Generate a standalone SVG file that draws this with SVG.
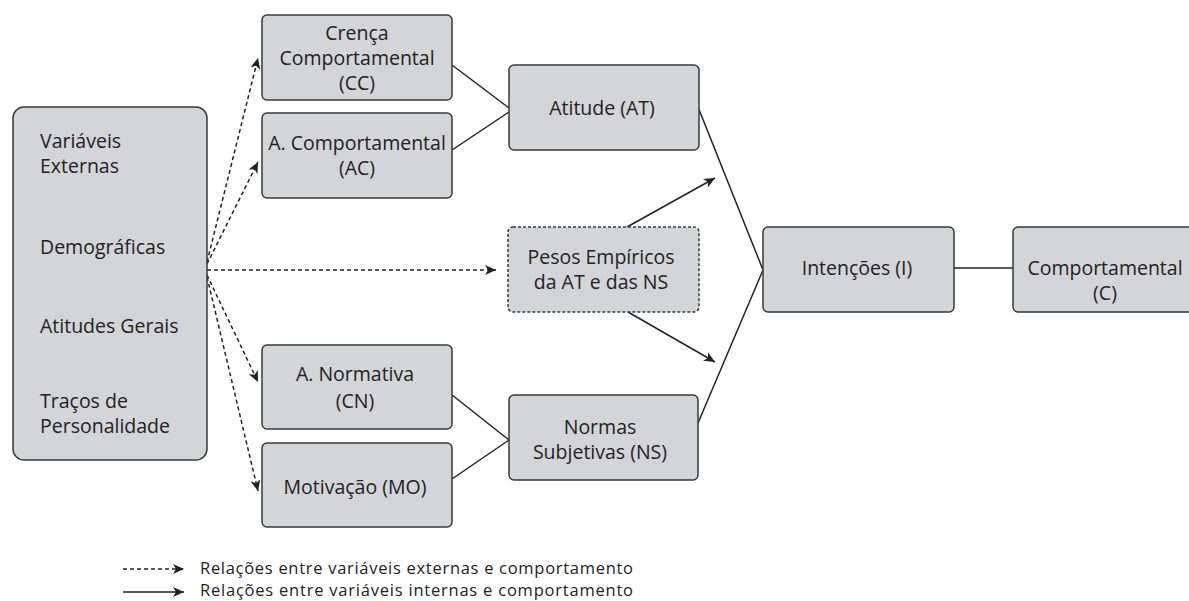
<svg xmlns="http://www.w3.org/2000/svg" width="1189" height="601" viewBox="0 0 1189 601">
<defs>
<style>
.box{fill:#d4d5d8;stroke:#3a3a3a;stroke-width:1.5}
.dbox{fill:#d4d5d8;stroke:#3a3a3a;stroke-width:1.5;stroke-dasharray:3 2}
.t{font-family:"Open Sans","Noto Sans",sans-serif;font-size:19.5px;fill:#222}
.l{font-family:"Open Sans","Noto Sans",sans-serif;font-size:16.5px;fill:#222}
.c{text-anchor:middle}
.solid{stroke:#222;stroke-width:1.5;fill:none}
.dash{stroke:#222;stroke-width:1.5;fill:none;stroke-dasharray:4 3}
</style>
<marker id="ah" markerUnits="userSpaceOnUse" markerWidth="12" markerHeight="10" refX="11" refY="5" orient="auto">
<path d="M0,0 L11,5 L0,10 L3,5 z" fill="#222"/>
</marker>
</defs>
<rect width="1189" height="601" fill="#fff"/>

<g id="connectors">
<line class="dash" x1="207" y1="262" x2="258" y2="58" marker-end="url(#ah)"/>
<line class="dash" x1="207" y1="264" x2="258" y2="162" marker-end="url(#ah)"/>
<line class="dash" x1="207" y1="270" x2="496" y2="270" marker-end="url(#ah)"/>
<line class="dash" x1="207" y1="275" x2="258" y2="382" marker-end="url(#ah)"/>
<line class="dash" x1="207" y1="277" x2="258" y2="491" marker-end="url(#ah)"/>
<line class="solid" x1="452" y1="65" x2="509" y2="108"/>
<line class="solid" x1="452" y1="150" x2="509" y2="112"/>
<line class="solid" x1="452" y1="395" x2="509" y2="440"/>
<line class="solid" x1="452" y1="479" x2="509" y2="440"/>
<line class="solid" x1="627" y1="227" x2="715" y2="178" marker-end="url(#ah)"/>
<line class="solid" x1="628" y1="312" x2="715" y2="362" marker-end="url(#ah)"/>
<line class="solid" x1="698" y1="107" x2="763" y2="270"/>
<line class="solid" x1="698" y1="423" x2="763" y2="270"/>
<line class="solid" x1="954" y1="268" x2="1013" y2="268"/>
</g>

<g id="n-externas">
<rect class="box" x="13" y="107" width="194" height="353" rx="11"/>
<text class="t" x="40" y="148">Variáveis</text>
<text class="t" x="40" y="173">Externas</text>
<text class="t" x="40" y="254">Demográficas</text>
<text class="t" x="40" y="333">Atitudes Gerais</text>
<text class="t" x="40" y="408">Traços de</text>
<text class="t" x="40" y="433">Personalidade</text>
</g>

<g id="n-cc">
<rect class="box" x="262" y="15" width="190" height="85" rx="5"/>
<text class="t c" x="357" y="40">Crença</text>
<text class="t c" x="357" y="65">Comportamental</text>
<text class="t c" x="357" y="90">(CC)</text>
</g>

<g id="n-ac">
<rect class="box" x="262" y="113" width="190" height="85" rx="5"/>
<text class="t c" x="357" y="150">A. Comportamental</text>
<text class="t c" x="357" y="175">(AC)</text>
</g>

<g id="n-at">
<rect class="box" x="509" y="65" width="190" height="85" rx="5"/>
<text class="t c" x="602" y="115">Atitude (AT)</text>
</g>

<g id="n-pesos">
<rect class="dbox" x="508" y="227" width="191" height="85" rx="5"/>
<text class="t c" x="601" y="264">Pesos Empíricos</text>
<text class="t c" x="601" y="289">da AT e das NS</text>
</g>

<g id="n-cn">
<rect class="box" x="262" y="345" width="190" height="84" rx="5"/>
<text class="t c" x="355" y="381">A. Normativa</text>
<text class="t c" x="355" y="408">(CN)</text>
</g>

<g id="n-mo">
<rect class="box" x="262" y="443" width="190" height="84" rx="5"/>
<text class="t c" x="355" y="494">Motivação (MO)</text>
</g>

<g id="n-ns">
<rect class="box" x="509" y="395" width="189" height="85" rx="5"/>
<text class="t c" x="600" y="434">Normas</text>
<text class="t c" x="600" y="459">Subjetivas (NS)</text>
</g>

<g id="n-i">
<rect class="box" x="763" y="227" width="191" height="85" rx="5"/>
<text class="t c" x="857" y="275">Intenções (I)</text>
</g>

<g id="n-c">
<rect class="box" x="1013" y="227" width="191" height="85" rx="5"/>
<text class="t c" x="1105" y="275">Comportamental</text>
<text class="t c" x="1105" y="300">(C)</text>
</g>

<g id="legend">
<line class="dash" x1="123" y1="569" x2="184" y2="569" marker-end="url(#ah)"/>
<text class="l" x="200" y="574" textLength="433">Relações entre variáveis externas e comportamento</text>
<line class="solid" x1="123" y1="592" x2="184" y2="592" marker-end="url(#ah)"/>
<text class="l" x="200" y="596" textLength="433">Relações entre variáveis internas e comportamento</text>
</g>
</svg>
